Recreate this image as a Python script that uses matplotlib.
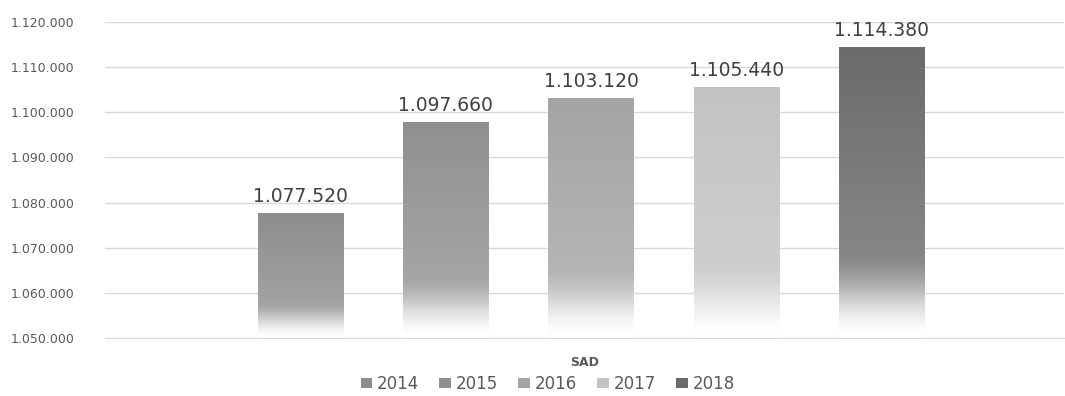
import numpy as np
import matplotlib
matplotlib.use("Agg")
import matplotlib.pyplot as plt
from matplotlib.colors import to_rgb

# datos
years = ["2014", "2015", "2016", "2017", "2018"]
values = [1077520, 1097660, 1103120, 1105440, 1114380]
colors = ["#8d8d8d", "#909090", "#a4a4a4", "#c3c3c3", "#6b6b6b"]
category = "SAD"
yticks = [1050000, 1060000, 1070000, 1080000, 1090000, 1100000, 1110000, 1120000]


def fmt(v):
    return f"{v:,}".replace(",", ".")


fig = plt.figure(figsize=(10.65, 3.96), dpi=100)
ax = fig.add_axes([0.0986, 0.1465, 0.9, 0.798])

ymin, ymax = 1050000, 1120000
ax.set_ylim(ymin, ymax)
ax.set_xlim(-0.5, 0.5)

step = 0.1516
width = 0.0887
offset = 0.007

for i, (y, v, c) in enumerate(zip(years, values, colors)):
    x = offset + (i - 2) * step
    ax.bar(x, v - ymin, bottom=ymin, width=width, color=c, label=y, zorder=2)
    # gradiente vertical: oscuro arriba, blanco abajo
    n = 300
    t = np.linspace(0, 1, n)[:, None]  # 0 abajo, 1 arriba
    rgb = np.array(to_rgb(c))[None, :]
    light = rgb + (1 - rgb) * 0.18
    f_low = np.clip(t / 0.3, 0, 1)
    f_low = f_low * f_low * (3 - 2 * f_low)
    f_up = np.clip((t - 0.3) / 0.7, 0, 1)
    body = light * (1 - f_up) + rgb * f_up
    col = (1 - f_low) * 1.0 + f_low * body
    grad = col[:, None, :]
    ax.imshow(grad, extent=[x - width / 2, x + width / 2, ymin, v], origin="lower",
              aspect="auto", zorder=3, interpolation="bilinear")
    ax.text(x, v + 1700, fmt(v), ha="center", va="bottom", fontsize=13.5, color="#404040",
            zorder=4)

ax.set_xlim(-0.5, 0.5)
ax.set_ylim(ymin, ymax)
ax.set_yticks(yticks)
ax.set_yticklabels([fmt(t) for t in yticks], fontsize=9, color="#595959")
ax.set_xticks([0])
ax.set_xticklabels([category], fontsize=9, fontweight="bold", color="#595959")
ax.tick_params(axis="both", length=0)
ax.tick_params(axis="y", pad=22)
ax.tick_params(axis="x", pad=13)
ax.grid(axis="y", color="#d9d9d9", linewidth=1, zorder=0)
ax.set_axisbelow(True)
for s in ["top", "right", "left"]:
    ax.spines[s].set_visible(False)
ax.spines["bottom"].set_color("#d9d9d9")

ax.legend(loc="center", bbox_to_anchor=(0.462, -0.145), ncol=5, frameon=False,
          fontsize=12, handlelength=0.7, handleheight=0.5, handletextpad=0.3,
          columnspacing=1.2, labelcolor="#595959")

fig.savefig("out.png", dpi=100)
